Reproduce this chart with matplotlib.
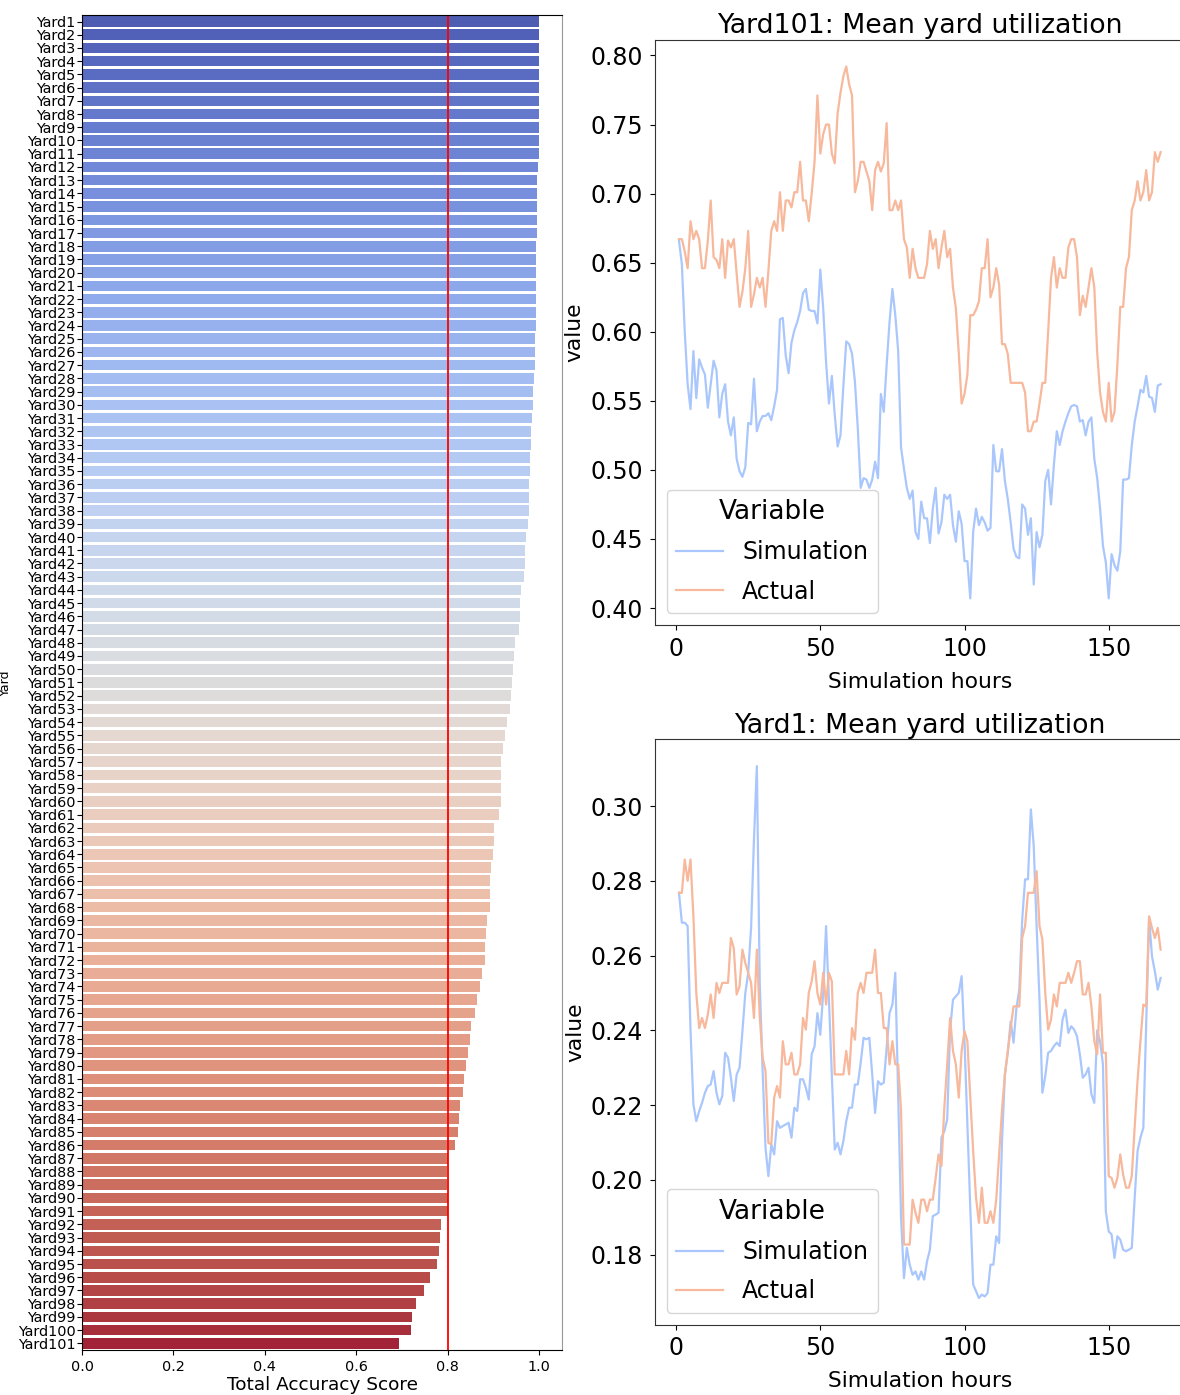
import numpy as np
import matplotlib
matplotlib.use('Agg')
import matplotlib.pyplot as plt
import seaborn as sns

# accuracy score per yard (sorted)
yards = ['Yard' + str(i) for i in range(1, 102)]
scores = [1.0, 1.0, 1.0, 1.0, 1.0, 1.0, 1.0, 1.0, 1.0, 1.0,
          1.0, 0.997, 0.996, 0.996, 0.996, 0.996, 0.995, 0.994, 0.994, 0.994,
          0.993, 0.993, 0.992, 0.992, 0.991, 0.991, 0.990, 0.988, 0.986, 0.986,
          0.985, 0.983, 0.982, 0.980, 0.979, 0.978, 0.977, 0.977, 0.975, 0.972,
          0.970, 0.969, 0.966, 0.960, 0.959, 0.957, 0.955, 0.948, 0.945, 0.942,
          0.941, 0.938, 0.936, 0.929, 0.925, 0.920, 0.917, 0.917, 0.916, 0.916,
          0.912, 0.901, 0.901, 0.898, 0.894, 0.893, 0.893, 0.892, 0.886, 0.883,
          0.882, 0.882, 0.874, 0.870, 0.864, 0.859, 0.851, 0.849, 0.844, 0.841,
          0.836, 0.833, 0.826, 0.825, 0.822, 0.815, 0.800, 0.799, 0.799, 0.800,
          0.800, 0.785, 0.782, 0.781, 0.777, 0.761, 0.748, 0.730, 0.721, 0.719,
          0.693]
threshold = 0.8

hours = np.arange(1, 169)

yard101_sim = [0.666, 0.649, 0.600, 0.562, 0.544, 0.586, 0.552, 0.580, 0.574, 0.569,
               0.545, 0.562, 0.579, 0.572, 0.538, 0.555, 0.562, 0.535, 0.525, 0.538,
               0.508, 0.499, 0.495, 0.502, 0.534, 0.533, 0.566, 0.528, 0.535, 0.539,
               0.539, 0.541, 0.536, 0.546, 0.558, 0.609, 0.610, 0.583, 0.570, 0.592,
               0.601, 0.607, 0.615, 0.628, 0.631, 0.616, 0.615, 0.615, 0.606, 0.645,
               0.617, 0.578, 0.548, 0.568, 0.540, 0.517, 0.525, 0.561, 0.593, 0.591,
               0.584, 0.564, 0.530, 0.487, 0.494, 0.493, 0.487, 0.493, 0.506, 0.494,
               0.555, 0.542, 0.576, 0.607, 0.631, 0.612, 0.586, 0.516, 0.501, 0.487,
               0.479, 0.485, 0.455, 0.450, 0.477, 0.465, 0.465, 0.447, 0.472, 0.487,
               0.454, 0.462, 0.482, 0.479, 0.482, 0.460, 0.448, 0.470, 0.461, 0.434,
               0.434, 0.407, 0.455, 0.472, 0.460, 0.466, 0.462, 0.456, 0.458, 0.518,
               0.499, 0.499, 0.515, 0.492, 0.479, 0.462, 0.443, 0.437, 0.436, 0.475,
               0.472, 0.453, 0.465, 0.417, 0.455, 0.444, 0.453, 0.492, 0.500, 0.475,
               0.504, 0.528, 0.518, 0.528, 0.535, 0.541, 0.546, 0.547, 0.546, 0.535,
               0.536, 0.525, 0.535, 0.538, 0.508, 0.494, 0.472, 0.445, 0.433, 0.407,
               0.439, 0.431, 0.427, 0.441, 0.493, 0.493, 0.494, 0.518, 0.535, 0.546,
               0.558, 0.556, 0.568, 0.553, 0.552, 0.542, 0.561, 0.562]
yard101_act = [0.667, 0.667, 0.658, 0.646, 0.680, 0.667, 0.673, 0.667, 0.646, 0.646,
               0.666, 0.695, 0.654, 0.652, 0.646, 0.667, 0.639, 0.666, 0.661, 0.667,
               0.642, 0.618, 0.629, 0.646, 0.673, 0.618, 0.627, 0.639, 0.632, 0.639,
               0.618, 0.644, 0.673, 0.680, 0.673, 0.701, 0.673, 0.695, 0.695, 0.690,
               0.701, 0.701, 0.723, 0.695, 0.695, 0.680, 0.700, 0.723, 0.771, 0.729,
               0.743, 0.750, 0.750, 0.729, 0.722, 0.758, 0.773, 0.785, 0.792, 0.779,
               0.771, 0.701, 0.709, 0.723, 0.723, 0.716, 0.709, 0.688, 0.717, 0.723,
               0.716, 0.722, 0.751, 0.688, 0.688, 0.695, 0.688, 0.695, 0.667, 0.661,
               0.639, 0.660, 0.646, 0.639, 0.639, 0.639, 0.649, 0.673, 0.660, 0.667,
               0.646, 0.661, 0.673, 0.654, 0.660, 0.632, 0.617, 0.585, 0.548, 0.555,
               0.569, 0.612, 0.612, 0.616, 0.622, 0.646, 0.646, 0.667, 0.625, 0.632,
               0.646, 0.634, 0.591, 0.591, 0.584, 0.563, 0.563, 0.563, 0.563, 0.563,
               0.556, 0.528, 0.528, 0.535, 0.535, 0.548, 0.563, 0.563, 0.600, 0.639,
               0.654, 0.632, 0.646, 0.639, 0.639, 0.661, 0.667, 0.667, 0.654, 0.612,
               0.626, 0.618, 0.632, 0.646, 0.632, 0.585, 0.556, 0.542, 0.535, 0.563,
               0.535, 0.542, 0.576, 0.618, 0.618, 0.646, 0.654, 0.688, 0.695, 0.709,
               0.695, 0.701, 0.717, 0.695, 0.701, 0.730, 0.723, 0.730]

yard1_sim = [0.2768, 0.2688, 0.2688, 0.2679, 0.2400, 0.2202, 0.2157, 0.2184, 0.2206, 0.2233,
             0.2251, 0.2255, 0.2291, 0.2233, 0.2202, 0.2224, 0.2340, 0.2327, 0.2273, 0.2211,
             0.2282, 0.2300, 0.2398, 0.2500, 0.2554, 0.2674, 0.2911, 0.3107, 0.2527, 0.2291,
             0.2086, 0.2010, 0.2095, 0.2068, 0.2157, 0.2139, 0.2144, 0.2148, 0.2153, 0.2113,
             0.2193, 0.2184, 0.2269, 0.2269, 0.2246, 0.2215, 0.2336, 0.2357, 0.2446, 0.2388,
             0.2500, 0.2679, 0.2482, 0.2291, 0.2081, 0.2099, 0.2068, 0.2104, 0.2157, 0.2193,
             0.2193, 0.2255, 0.2255, 0.2313, 0.2380, 0.2376, 0.2380, 0.2282, 0.2179, 0.2264,
             0.2255, 0.2260, 0.2354, 0.2446, 0.2469, 0.2554, 0.2220, 0.1898, 0.1737, 0.1818,
             0.1773, 0.1746, 0.1755, 0.1733, 0.1755, 0.1733, 0.1782, 0.1813, 0.1903, 0.1907,
             0.1912, 0.2113, 0.2130, 0.2162, 0.2402, 0.2482, 0.2491, 0.2500, 0.2545, 0.2370,
             0.2148, 0.1925, 0.1720, 0.1702, 0.1684, 0.1693, 0.1688, 0.1697, 0.1773, 0.1773,
             0.1849, 0.1831, 0.2104, 0.2282, 0.2340, 0.2424, 0.2367, 0.2460, 0.2509, 0.2696,
             0.2804, 0.2804, 0.2991, 0.2893, 0.2679, 0.2482, 0.2233, 0.2278, 0.2340, 0.2345,
             0.2358, 0.2367, 0.2358, 0.2429, 0.2455, 0.2393, 0.2411, 0.2402, 0.2384, 0.2336,
             0.2273, 0.2282, 0.2300, 0.2229, 0.2206, 0.2400, 0.2370, 0.2309, 0.1916, 0.1862,
             0.1854, 0.1791, 0.1849, 0.1840, 0.1813, 0.1809, 0.1813, 0.1818, 0.1952, 0.2077,
             0.2113, 0.2139, 0.2420, 0.2701, 0.2598, 0.2558, 0.2509, 0.2540]
yard1_act = [0.2768, 0.2768, 0.2857, 0.2800, 0.2857, 0.2705, 0.2500, 0.2406, 0.2433, 0.2406,
             0.2442, 0.2496, 0.2433, 0.2527, 0.2500, 0.2527, 0.2527, 0.2527, 0.2647, 0.2620,
             0.2496, 0.2518, 0.2616, 0.2580, 0.2554, 0.2527, 0.2433, 0.2616, 0.2437, 0.2327,
             0.2291, 0.2099, 0.2095, 0.2220, 0.2251, 0.2220, 0.2371, 0.2309, 0.2309, 0.2340,
             0.2282, 0.2282, 0.2309, 0.2433, 0.2402, 0.2500, 0.2531, 0.2585, 0.2500, 0.2469,
             0.2554, 0.2469, 0.2554, 0.2531, 0.2282, 0.2282, 0.2282, 0.2282, 0.2345, 0.2282,
             0.2406, 0.2375, 0.2500, 0.2527, 0.2500, 0.2554, 0.2554, 0.2554, 0.2616, 0.2500,
             0.2500, 0.2406, 0.2406, 0.2309, 0.2371, 0.2309, 0.2309, 0.2184, 0.1827, 0.1827,
             0.1827, 0.1947, 0.1912, 0.1885, 0.1947, 0.1947, 0.1916, 0.1947, 0.1947, 0.2005,
             0.2068, 0.2037, 0.2193, 0.2309, 0.2433, 0.2345, 0.2309, 0.2220, 0.2345, 0.2398,
             0.2371, 0.2220, 0.2077, 0.1952, 0.1885, 0.1979, 0.1885, 0.1885, 0.1916, 0.1885,
             0.1947, 0.2068, 0.2188, 0.2282, 0.2345, 0.2406, 0.2464, 0.2464, 0.2464, 0.2647,
             0.2679, 0.2768, 0.2768, 0.2768, 0.2826, 0.2679, 0.2643, 0.2500, 0.2402, 0.2429,
             0.2496, 0.2464, 0.2527, 0.2527, 0.2527, 0.2554, 0.2527, 0.2554, 0.2585, 0.2585,
             0.2496, 0.2496, 0.2527, 0.2464, 0.2371, 0.2336, 0.2496, 0.2340, 0.2340, 0.2010,
             0.2005, 0.1979, 0.2005, 0.2068, 0.2014, 0.1979, 0.1979, 0.2010, 0.2141, 0.2266,
             0.2371, 0.2469, 0.2464, 0.2705, 0.2674, 0.2647, 0.2674, 0.2616]

fig = plt.figure(figsize=(11.8, 13.95), dpi=100)

# left: sorted accuracy bars
ax = fig.add_axes([0.0695, 0.0323, 0.4068, 0.957])
sns.barplot(x=scores, y=yards, hue=yards, palette='coolwarm', legend=False, ax=ax)
ax.axvline(threshold, color='red', lw=1.3)
ax.set_xlim(0, 1.05)
ax.set_xticks([0.0, 0.2, 0.4, 0.6, 0.8, 1.0])
ax.tick_params(axis='y', labelsize=10.4, pad=1)
ax.tick_params(axis='x', labelsize=10.4)
ax.set_xlabel('Total Accuracy Score', fontsize=13.3, labelpad=2)
ax.set_ylabel('Yard', fontsize=9)
ax.yaxis.set_label_coords(-0.145, 0.5)
ax.spines['right'].set_color('#999999')

sim_col, act_col = sns.color_palette('coolwarm', 2)


def util_plot(ax, sim, act, title):
    ax.plot(hours, sim, color=sim_col, lw=1.6, label='Simulation')
    ax.plot(hours, act, color=act_col, lw=1.6, label='Actual')
    ax.set_title(title, fontsize=19.3, pad=5)
    ax.set_xlabel('Simulation hours', fontsize=15.7, labelpad=8)
    ax.set_ylabel('value', fontsize=15.7)
    ax.tick_params(labelsize=17, pad=5)
    ax.set_xticks([0, 50, 100, 150])
    ax.legend(title='Variable', loc='lower left', fontsize=17, title_fontsize=19,
              labelspacing=0.65)
    for s in ax.spines.values():
        s.set_color('#333333')


ax1 = fig.add_axes([0.555, 0.552, 0.449, 0.4194])
util_plot(ax1, yard101_sim, yard101_act, 'Yard101: Mean yard utilization')
ax1.set_yticks([0.40, 0.45, 0.50, 0.55, 0.60, 0.65, 0.70, 0.75, 0.80])

ax2 = fig.add_axes([0.555, 0.0505, 0.449, 0.4194])
util_plot(ax2, yard1_sim, yard1_act, 'Yard1: Mean yard utilization')
ax2.set_yticks([0.18, 0.20, 0.22, 0.24, 0.26, 0.28, 0.30])

fig.savefig('out.png', dpi=100)
